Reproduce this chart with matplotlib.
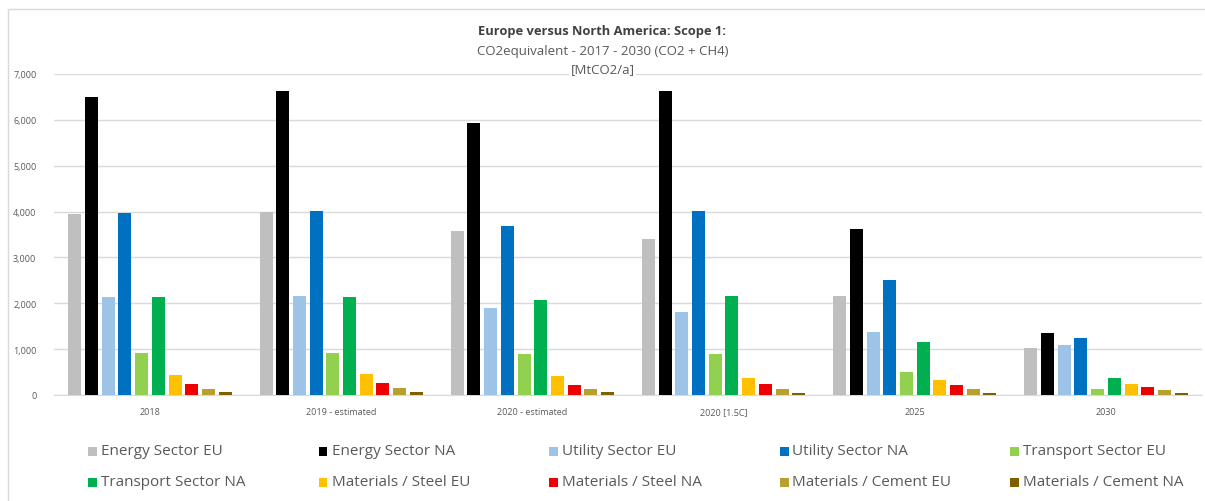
import matplotlib
matplotlib.use("Agg")
import matplotlib.pyplot as plt
import numpy as np
from matplotlib.patches import Rectangle
from matplotlib.ticker import FuncFormatter

categories = ["2018", "2019 - estimated", "2020 - estimated", "2020 [1.5C]", "2025", "2030"]

series_names = ["Energy Sector EU", "Energy Sector NA", "Utility Sector EU", "Utility Sector NA",
                "Transport Sector EU", "Transport Sector NA", "Materials / Steel EU",
                "Materials / Steel NA", "Materials / Cement EU", "Materials / Cement NA"]

energy_eu = [3950, 3980, 3570, 3410, 2160, 1020]
energy_na = [6500, 6630, 5940, 6640, 3620, 1350]
utility_eu = [2130, 2150, 1890, 1810, 1380, 1090]
utility_na = [3960, 4020, 3680, 4010, 2510, 1250]
transport_eu = [910, 910, 890, 890, 510, 130]
transport_na = [2130, 2130, 2070, 2160, 1150, 370]
steel_eu = [430, 450, 410, 370, 330, 240]
steel_na = [240, 260, 220, 240, 220, 180]
cement_eu = [130, 150, 120, 120, 120, 110]
cement_na = [60, 70, 60, 40, 50, 40]

series_values = [energy_eu, energy_na, utility_eu, utility_na, transport_eu, transport_na,
                 steel_eu, steel_na, cement_eu, cement_na]

colors = ["#BFBFBF", "#000000", "#9DC3E6", "#0070C0", "#92D050", "#00B050",
          "#FFC000", "#EE0000", "#B8A030", "#7F6000"]

plt.rcParams['font.family'] = ['Open Sans', 'DejaVu Sans']

W, H = 1205, 502
fig = plt.figure(figsize=(W / 100, H / 100), dpi=100)
fig.patch.set_facecolor("white")

# outer chart frame
fig.add_artist(Rectangle((8 / W, -0.02), 1.05, 1 - 10 / H + 0.02, transform=fig.transFigure,
                         fill=False, edgecolor="#D9D9D9", linewidth=1.0))

ax_left, ax_right = 54.4, 1201.6
ax_bottom, ax_top = 396.0, 75.0
ax = fig.add_axes([ax_left / W, 1 - ax_bottom / H, (ax_right - ax_left) / W, (ax_bottom - ax_top) / H])

x = np.arange(len(categories))
pitch = 0.0873
width = 0.068
n = len(series_values)
for i, (vals, c) in enumerate(zip(series_values, colors)):
    offs = (i - (n - 1) / 2) * pitch
    ax.bar(x + offs, vals, width=width, color=c, zorder=3, label=series_names[i])

ax.set_xlim(-0.5, len(categories) - 0.5)
ax.set_ylim(0, 7000)
ax.set_yticks(np.arange(0, 7001, 1000))
ax.yaxis.set_major_formatter(FuncFormatter(lambda v, p: f"{int(v):,}"))
ax.set_xticks(x)
ax.set_xticklabels(categories)
ax.grid(axis="y", color="#D9D9D9", linewidth=1.0, zorder=0)
for s in ["top", "right", "left"]:
    ax.spines[s].set_visible(False)
ax.spines["bottom"].set_color("#D9D9D9")
ax.tick_params(axis="both", length=0, colors="#595959", labelsize=6.5)
ax.tick_params(axis="x", pad=9)
ax.tick_params(axis="y", pad=13)

# title
fig.text(0.5, 1 - 32 / H, "Europe versus North America: Scope 1:", ha="center", va="center",
         fontsize=9.3, fontweight="bold", color="#404040")
fig.text(0.5, 1 - 51 / H, "CO2equivalent - 2017 - 2030 (CO2 + CH4)", ha="center", va="center",
         fontsize=9.5, color="#595959")
fig.text(0.5, 1 - 70 / H, "[MtCO2/a]", ha="center", va="center",
         fontsize=9.5, color="#595959", bbox=dict(facecolor="white", edgecolor="none", pad=1))

# legend (manual layout, 2 rows x 5 columns)
sq = 9
for i, (name, c) in enumerate(zip(series_names, colors)):
    col, row = i % 5, i // 5
    mx = 88 + col * 230.5
    my = 452 + row * 31
    fig.add_artist(Rectangle((mx / W, 1 - (my + sq / 2) / H), sq / W, sq / H,
                             transform=fig.transFigure, facecolor=c, edgecolor="none"))
    fig.text((mx + sq + 4) / W, 1 - my / H, name, ha="left", va="center",
             fontsize=11, color="#595959")

fig.savefig("out.png", dpi=100, facecolor="white")
